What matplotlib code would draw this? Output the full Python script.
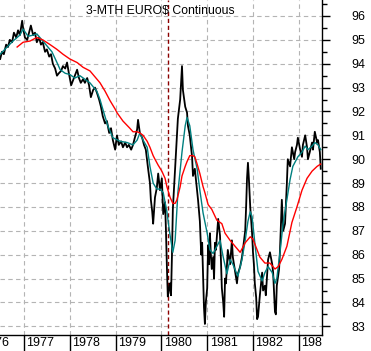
import matplotlib
matplotlib.use("Agg")
import matplotlib.pyplot as plt
import matplotlib.transforms as mtransforms
from matplotlib.ticker import MultipleLocator

plt.rcParams["font.family"] = ["Liberation Sans", "DejaVu Sans"]

# price (black), short average (teal), long average (red); x in decimal years
price_year = [
    1976.48, 1976.52, 1976.56, 1976.61, 1976.65, 1976.69, 1976.74, 1976.78, 1976.83, 1976.87,
    1976.91, 1976.96, 1976.98, 1977.02, 1977.07, 1977.11, 1977.15, 1977.20, 1977.24, 1977.28,
    1977.33, 1977.37, 1977.41, 1977.46, 1977.50, 1977.55, 1977.59, 1977.63, 1977.68, 1977.72,
    1977.76, 1977.81, 1977.85, 1977.90, 1977.94, 1977.98, 1978.03, 1978.07, 1978.11, 1978.16,
    1978.20, 1978.24, 1978.29, 1978.33, 1978.38, 1978.42, 1978.46, 1978.51, 1978.55, 1978.59,
    1978.64, 1978.68, 1978.72, 1978.77, 1978.81, 1978.86, 1978.90, 1978.94, 1978.99, 1979.03,
    1979.07, 1979.12, 1979.16, 1979.21, 1979.25, 1979.29, 1979.34, 1979.38, 1979.42, 1979.47,
    1979.49, 1979.53, 1979.58, 1979.62, 1979.66, 1979.71, 1979.75, 1979.77, 1979.80, 1979.82,
    1979.86, 1979.90, 1979.93, 1979.97, 1980.01, 1980.04, 1980.08, 1980.10, 1980.12, 1980.14,
    1980.17, 1980.19, 1980.21, 1980.23, 1980.25, 1980.30, 1980.34, 1980.36, 1980.41, 1980.43,
    1980.45, 1980.47, 1980.52, 1980.56, 1980.58, 1980.62, 1980.67, 1980.69, 1980.73, 1980.78,
    1980.80, 1980.84, 1980.87, 1980.89, 1980.91, 1980.93, 1980.95, 1980.97, 1981.00, 1981.02,
    1981.04, 1981.06, 1981.08, 1981.10, 1981.13, 1981.15, 1981.17, 1981.19, 1981.24, 1981.28,
    1981.30, 1981.32, 1981.35, 1981.37, 1981.39, 1981.41, 1981.45, 1981.50, 1981.54, 1981.56,
    1981.61, 1981.65, 1981.67, 1981.72, 1981.76, 1981.78, 1981.83, 1981.85, 1981.87, 1981.89,
    1981.91, 1981.94, 1981.98, 1982.00, 1982.02, 1982.04, 1982.07, 1982.09, 1982.11, 1982.15,
    1982.20, 1982.22, 1982.26, 1982.28, 1982.33, 1982.37, 1982.42, 1982.44, 1982.48, 1982.50,
    1982.52, 1982.57, 1982.59, 1982.63, 1982.66, 1982.70, 1982.74, 1982.76, 1982.81, 1982.85,
    1982.90, 1982.92, 1982.96, 1982.98, 1983.03, 1983.07, 1983.09, 1983.14, 1983.18, 1983.20,
    1983.24, 1983.29, 1983.31, 1983.35, 1983.40, 1983.42, 1983.46, 1983.48,
]
price_val = [
    94.2, 94.5, 94.4, 94.8, 94.7, 95.0, 94.9, 95.3, 95.1, 95.4,
    95.2, 95.8, 95.5, 95.1, 95.0, 95.3, 95.6, 95.2, 95.3, 94.9,
    95.1, 94.8, 94.9, 94.5, 94.6, 94.3, 94.4, 94.0, 93.8, 93.5,
    93.6, 93.7, 93.9, 93.8, 94.05, 93.6, 93.1, 93.3, 93.5, 93.75,
    93.4, 93.2, 93.35, 93.2, 93.4, 93.1, 92.6, 92.9, 93.0, 92.8,
    92.5, 92.2, 91.8, 91.5, 91.6, 91.1, 91.3, 90.8, 90.4, 91.0,
    90.6, 90.75, 90.5, 90.7, 90.5, 90.6, 90.4, 90.6, 90.9, 91.25,
    91.65, 91.1, 90.9, 90.6, 90.4, 89.6, 89.0, 88.3, 87.8, 87.3,
    88.4, 88.8, 89.4, 88.7, 89.2, 87.7, 88.2, 87.0, 85.5, 84.25,
    84.6, 84.8, 84.3, 85.9, 87.9, 89.6, 90.95, 91.7, 92.5, 93.2,
    93.9, 92.9, 92.2, 91.95, 91.4, 91.0, 90.1, 89.3, 89.6, 88.7,
    88.3, 87.4, 86.0, 86.5, 85.1, 83.8, 83.1, 84.0, 84.6, 86.4,
    85.6, 86.9, 86.0, 85.4, 85.9, 85.0, 86.5, 86.2, 87.5, 86.8,
    85.8, 84.6, 84.0, 83.4, 85.0, 84.8, 86.2, 85.6, 86.6, 85.9,
    85.3, 84.8, 85.2, 85.5, 85.9, 86.2, 87.0, 88.0, 89.2, 89.85,
    89.2, 88.0, 86.9, 86.1, 85.6, 84.8, 84.2, 83.3, 83.4, 84.3,
    85.25, 84.5, 84.7, 84.3, 85.8, 86.1, 85.6, 85.25, 83.6, 83.5,
    84.7, 85.4, 86.2, 88.3, 87.0, 87.3, 89.0, 90.0, 89.7, 90.5,
    90.0, 90.3, 90.6, 90.9, 90.4, 90.1, 90.6, 91.0, 90.5, 90.0,
    90.3, 90.7, 90.4, 91.15, 90.7, 90.8, 90.3, 89.6,
]

short_year = [
    1976.48, 1976.63, 1976.76, 1976.91, 1976.98, 1977.09, 1977.20, 1977.28, 1977.39, 1977.50,
    1977.61, 1977.72, 1977.79, 1977.90, 1978.00, 1978.11, 1978.22, 1978.33, 1978.44, 1978.59,
    1978.66, 1978.72, 1978.83, 1978.94, 1979.10, 1979.25, 1979.38, 1979.47, 1979.53, 1979.60,
    1979.69, 1979.75, 1979.82, 1979.90, 1979.97, 1980.04, 1980.12, 1980.19, 1980.25, 1980.30,
    1980.36, 1980.45, 1980.52, 1980.56, 1980.62, 1980.69, 1980.78, 1980.84, 1980.91, 1981.00,
    1981.06, 1981.13, 1981.17, 1981.28, 1981.35, 1981.43, 1981.50, 1981.56, 1981.67, 1981.76,
    1981.83, 1981.89, 1981.94, 1981.98, 1982.04, 1982.11, 1982.20, 1982.26, 1982.33, 1982.42,
    1982.48, 1982.52, 1982.59, 1982.66, 1982.74, 1982.81, 1982.87, 1982.98, 1983.07, 1983.14,
    1983.20, 1983.29, 1983.35, 1983.42, 1983.48,
]
short_val = [
    94.4, 94.7, 94.95, 95.2, 95.45, 95.15, 95.2, 95.25, 95.0, 94.75,
    94.5, 94.05, 93.75, 93.6, 93.55, 93.4, 93.5, 93.35, 93.2, 92.85,
    92.5, 92.1, 91.4, 90.9, 90.75, 90.7, 90.6, 90.8, 91.1, 90.8,
    90.5, 89.7, 89.0, 88.75, 88.75, 88.6, 87.8, 86.8, 86.1, 86.6,
    88.6, 90.3, 91.4, 91.75, 91.4, 90.4, 89.6, 88.7, 87.75, 86.9,
    86.2, 86.05, 86.2, 86.6, 85.9, 85.2, 85.8, 85.6, 85.1, 85.8,
    86.6, 87.4, 87.8, 87.6, 86.5, 85.3, 84.9, 85.25, 85.5, 85.25,
    84.8, 85.0, 86.1, 87.35, 88.3, 89.15, 89.7, 90.1, 90.3, 90.55,
    90.4, 90.55, 90.7, 90.6, 90.4,
]

long_year = [
    1976.85, 1976.98, 1977.13, 1977.28, 1977.41, 1977.57, 1977.72, 1977.85, 1978.00, 1978.16,
    1978.29, 1978.44, 1978.55, 1978.66, 1978.77, 1978.88, 1978.99, 1979.03, 1979.16, 1979.31,
    1979.38, 1979.47, 1979.53, 1979.60, 1979.69, 1979.75, 1979.82, 1979.86, 1979.93, 1980.01,
    1980.08, 1980.12, 1980.19, 1980.25, 1980.30, 1980.34, 1980.41, 1980.45, 1980.52, 1980.56,
    1980.62, 1980.69, 1980.73, 1980.78, 1980.84, 1980.91, 1980.95, 1981.02, 1981.10, 1981.21,
    1981.32, 1981.39, 1981.50, 1981.61, 1981.72, 1981.83, 1981.94, 1982.00, 1982.11, 1982.15,
    1982.26, 1982.37, 1982.48, 1982.55, 1982.63, 1982.74, 1982.85, 1982.96, 1983.07, 1983.18,
    1983.29, 1983.40, 1983.48,
]
long_val = [
    94.7, 94.9, 94.95, 95.1, 95.0, 94.8, 94.6, 94.4, 94.2, 94.05,
    93.85, 93.7, 93.45, 93.2, 92.85, 92.45, 92.1, 91.95, 91.6, 91.3,
    91.15, 91.15, 91.1, 91.0, 90.75, 90.5, 90.15, 90.0, 89.75, 89.5,
    89.2, 88.85, 88.4, 88.15, 88.15, 88.3, 88.85, 89.3, 89.7, 89.9,
    90.15, 90.15, 90.1, 89.8, 89.4, 88.85, 88.6, 88.1, 87.9, 87.45,
    87.3, 86.9, 86.6, 86.35, 86.1, 86.5, 86.75, 86.65, 86.1, 85.9,
    85.65, 85.65, 85.4, 85.5, 85.8, 86.35, 87.35, 88.0, 88.7, 89.2,
    89.5, 89.7, 89.8,
]

years = list(range(1976, 1984))
year_labels = [str(y) for y in years]
price_ticks = list(range(83, 97))
marker_year = 1980.14
title = "3-MTH EURO$ Continuous"


fig = plt.figure(figsize=(3.71, 3.51), dpi=100)
ax = fig.add_axes([0, 16 / 351, 322 / 371, 335 / 351])

ax.grid(True, color="#b4b4b4", linestyle=(0, (4, 3)), linewidth=0.8)
ax.set_axisbelow(True)

ax.axvline(marker_year, color="#8b0000", linestyle=(0, (3, 2)), linewidth=1.0)

ax.plot(price_year, price_val, color="black", linewidth=1.3)
ax.plot(short_year, short_val, color="#008080", linewidth=1.0)
ax.plot(long_year, long_val, color="#ff0000", linewidth=1.0)

ax.text(0.497, 0.968, title, transform=ax.transAxes, ha="center",
        va="center", fontsize=8.8)

# right-hand price axis
for side in ["left", "top"]:
    ax.spines[side].set_visible(False)
ax.spines["right"].set_linewidth(1.0)
ax.spines["bottom"].set_linewidth(1.0)

ax.yaxis.tick_right()
ax.set_yticks(price_ticks)
ax.yaxis.set_minor_locator(MultipleLocator(0.5))
ax.tick_params(axis="y", which="major", direction="out", length=5.8,
               width=1.0, pad=15.5, labelsize=9)
ax.tick_params(axis="y", which="minor", direction="out", length=3.6,
               width=1.0)

# year separators below the plot, labels sit to the right of each one
ax.set_xticks(years)
ax.tick_params(axis="x", which="major", direction="out", length=14,
               width=1.0, labelbottom=False)

# limits after set_xticks, which would otherwise widen the view
ax.set_xlim(1976.476, 1983.507)
ax.set_ylim(82.636, 96.67)

# year labels are cut at the right edge of the plot, as in the source chart
label_clip = mtransforms.Bbox.from_extents(0, 0, 322, 351)
base = mtransforms.blended_transform_factory(ax.transData, ax.transAxes)
shift = mtransforms.ScaledTranslation(2.5 / 100, 0, fig.dpi_scale_trans)
for y, lab in zip(years, year_labels):
    t = ax.text(y, -8 / 335, lab, transform=base + shift, ha="left",
                va="center", fontsize=9, clip_on=True)
    t.set_clip_box(label_clip)

fig.savefig("out.png", dpi=100)
